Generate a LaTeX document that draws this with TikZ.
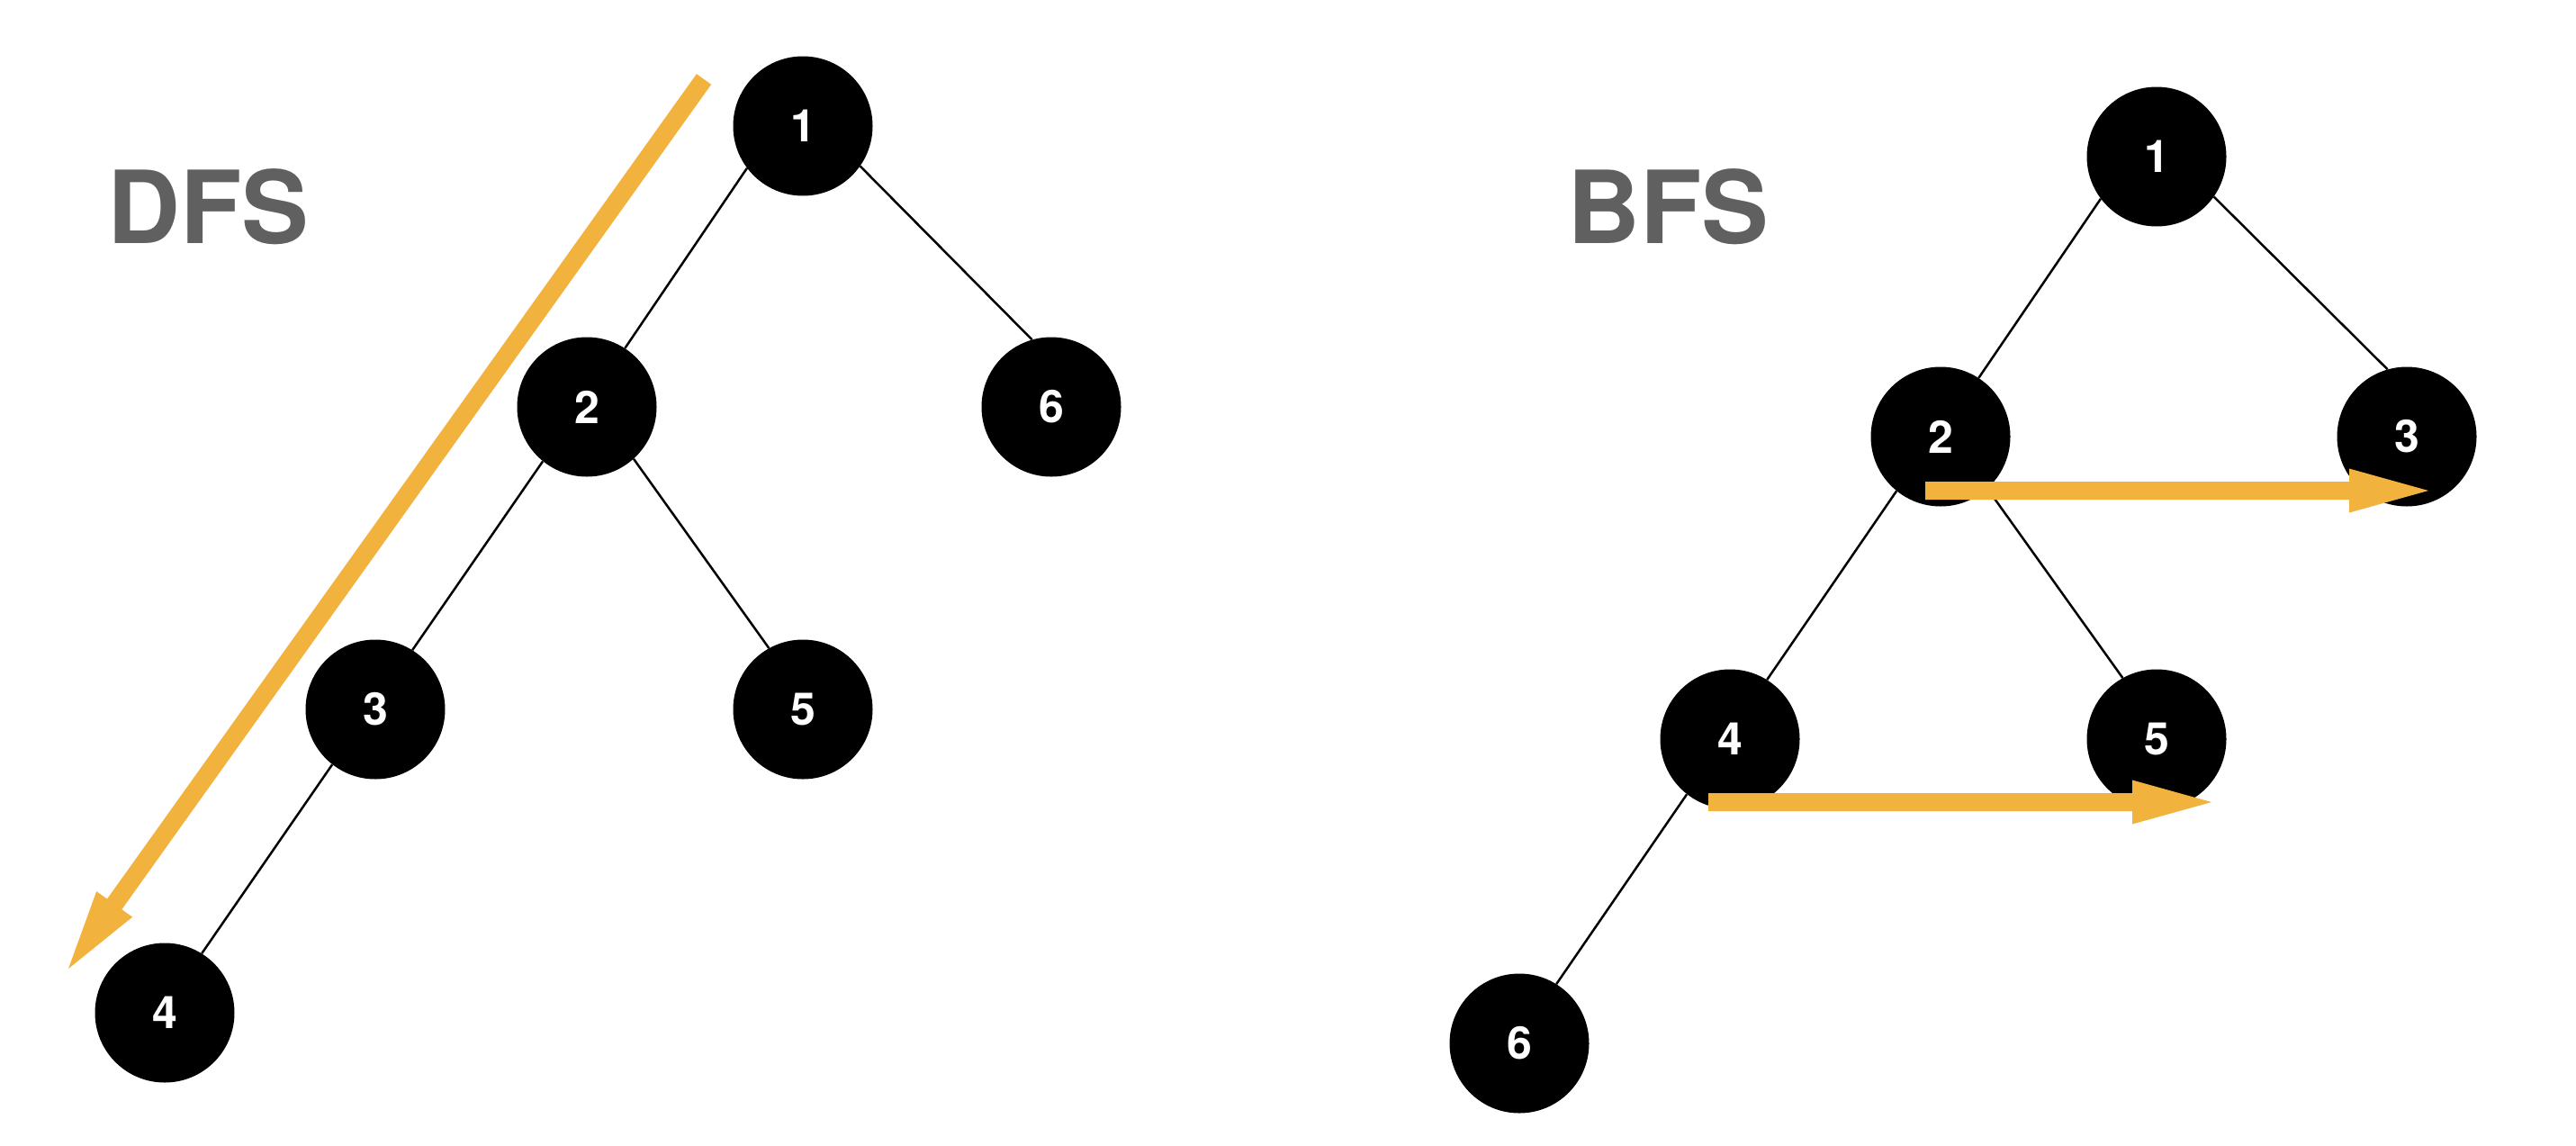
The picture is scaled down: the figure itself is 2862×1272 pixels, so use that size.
\documentclass[tikz,border=0pt]{standalone}
\usepackage{fontspec}
\setmainfont{TeX Gyre Heros}
\usetikzlibrary{calc}
\definecolor{arroworange}{RGB}{242,178,62}
\definecolor{titlegray}{RGB}{96,96,96}
\newcommand{\orangearrow}[2]{%
  \coordinate (#1h) at ($(#2)!88pt!(#1)$);
  \fill[arroworange] ($(#1)!10pt!90:(#2)$) -- ($(#1h)!10pt!90:(#2)$) -- ($(#1h)!24.5pt!90:(#2)$) -- (#2)
    -- ($(#1h)!24.5pt!-90:(#2)$) -- ($(#1h)!10pt!-90:(#2)$) -- ($(#1)!10pt!-90:(#2)$) -- cycle;}
\begin{document}
\begin{tikzpicture}[x=1pt,y=-1pt,
  treenode/.style={circle,fill=black,minimum size=155pt,inner sep=0pt,text=white,
    font=\fontsize{50}{50}\selectfont\bfseries},
  edge/.style={line width=2.5pt,black},
  title/.style={anchor=base west,text=titlegray,inner sep=0pt,
    font=\fontsize{112}{112}\selectfont\bfseries}]
\fill[white] (0,0) rectangle (2862,1272);
\useasboundingbox (0,0) rectangle (2862,1272);

% titles
\node[title] (dfs) at (119,270) {DFS};
\node[title] (bfs) at (1741,270) {BFS};

% DFS tree
\node[treenode] (d1) at (892,140) {1};
\node[treenode] (d2) at (652,452) {2};
\node[treenode] (d6) at (1168,452) {6};
\node[treenode] (d3) at (417,788) {3};
\node[treenode] (d5) at (892,788) {5};
\node[treenode] (d4) at (183,1125) {4};
\draw[edge] (d1.217.7) -- (d2.57.8);
\draw[edge] (d1.-35.6) -- (d6.106.6);
\draw[edge] (d2.231.8) -- (d3.58);
\draw[edge] (d2.-48.8) -- (d5.119.8);
\draw[edge] (d3.232.5) -- (d4.58.6);

% BFS tree
\node[treenode] (b1) at (2396,174) {1};
\node[treenode] (b2) at (2156,485) {2};
\node[treenode] (b3) at (2674,485) {3};
\node[treenode] (b4) at (1922,821) {4};
\node[treenode] (b5) at (2396,821) {5};
\node[treenode] (b6) at (1688,1159) {6};
\draw[edge] (b1.217.7) -- (b2.57.8);
\draw[edge] (b1.-35.6) -- (b3.106.6);
\draw[edge] (b2.231.8) -- (b4.58);
\draw[edge] (b2.-48.8) -- (b5.119.8);
\draw[edge] (b4.232.5) -- (b6.58.6);

% traversal arrows
\coordinate (dfsA) at (782,88);
\coordinate (dfsB) at (76,1076);
\orangearrow{dfsA}{dfsB}
\coordinate (bfsA) at (2139,545);
\coordinate (bfsB) at (2698,545);
\orangearrow{bfsA}{bfsB}
\coordinate (bfsC) at (1898,891);
\coordinate (bfsD) at (2457,891);
\orangearrow{bfsC}{bfsD}
\end{tikzpicture}
\end{document}
